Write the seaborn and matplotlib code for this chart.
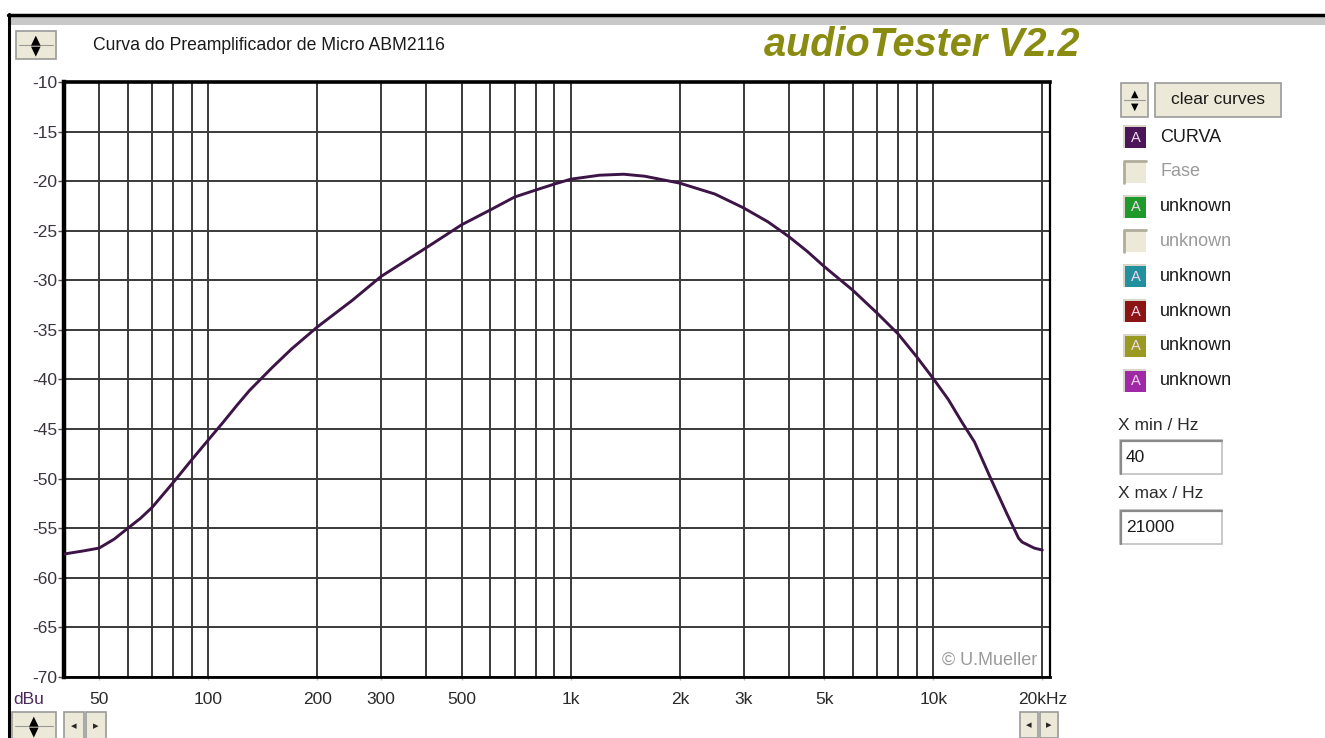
import matplotlib
matplotlib.use("Agg")
import matplotlib.pyplot as plt
import seaborn as sns
import pandas as pd
from matplotlib.patches import Rectangle
from matplotlib.lines import Line2D
from matplotlib.ticker import FixedLocator, NullFormatter

# ---------------- data ----------------
freq_hz = [40, 45, 50, 55, 60, 65, 70, 80, 90, 100, 110, 120, 130, 150, 170,
           200, 250, 300, 400, 500, 600, 700, 800, 900, 1000, 1200, 1400, 1600,
           2000, 2500, 3000, 3500, 4000, 4500, 5000, 6000, 7000, 8000, 9000,
           10000, 11000, 12000, 13000, 14500, 16000, 17200, 17600, 19000, 20000]
level_dbu = [-57.6, -57.3, -57.0, -56.1, -55.0, -54.0, -52.9, -50.4, -48.1,
             -46.1, -44.3, -42.6, -41.1, -38.8, -36.9, -34.7, -32.0, -29.6,
             -26.7, -24.4, -22.9, -21.6, -20.9, -20.3, -19.8, -19.4, -19.3,
             -19.5, -20.2, -21.3, -22.7, -24.1, -25.6, -27.1, -28.6, -31.0,
             -33.3, -35.4, -37.7, -39.9, -42.0, -44.3, -46.3, -50.2, -53.6,
             -56.0, -56.4, -57.0, -57.2]

x_major = [50, 100, 200, 300, 500, 1000, 2000, 3000, 5000, 10000, 20000]
x_major_labels = ["50", "100", "200", "300", "500", "1k", "2k", "3k", "5k", "10k", "20kHz"]
x_minor = [60, 70, 80, 90, 400, 600, 700, 800, 900, 4000, 6000, 7000, 8000, 9000]
y_ticks = [-10, -15, -20, -25, -30, -35, -40, -45, -50, -55, -60, -65, -70]
y_tick_labels = ["-10", "-15", "-20", "-25", "-30", "-35", "-40", "-45", "-50",
                 "-55", "-60", "-65", "-70"]
x_limits = (40, 21000)
y_limits = (-70, -10)

chart_title = "Curva do Preamplificador de Micro ABM2116"
brand = "audioTester V2.2"
legend_names = ["CURVA", "Fase", "unknown", "unknown", "unknown", "unknown", "unknown", "unknown"]
legend_colors = ["#4a1658", None, "#1f9a2a", None, "#23909e", "#8c1414", "#9a9a22", "#a02aa6"]

df = pd.DataFrame({"freq": freq_hz, "level": level_dbu})

# ---------------- figure ----------------
sns.set_style("white")
plt.rcParams["font.family"] = ["Liberation Sans", "DejaVu Sans"]

W, H = 1325, 738
fig = plt.figure(figsize=(W / 100, H / 100), dpi=100)
fig.patch.set_facecolor("white")

# background overlay in pixel coordinates for window decorations
bg = fig.add_axes([0, 0, 1, 1], zorder=0)
bg.set_xlim(0, W)
bg.set_ylim(H, 0)
bg.axis("off")

BTN = "#ece9d8"
EDGE = "#9a9a9a"

# window frame
bg.add_patch(Rectangle((9, 16), W, 9, facecolor="#c8c8c8", edgecolor="none"))
bg.add_line(Line2D([8, W], [14.5, 14.5], color="black", lw=2.5))
bg.add_line(Line2D([9, 9], [14, H], color="black", lw=2.2))


def button(x, y, w, h):
    bg.add_patch(Rectangle((x, y), w, h, facecolor=BTN, edgecolor=EDGE, lw=1.2))


def spinner(x, y, w, h, small=False):
    button(x, y, w, h)
    fs = 7 if small else 9
    bg.text(x + w / 2, y + h * 0.32, "\u25b2", ha="center", va="center", fontsize=fs,
            color="black", family="DejaVu Sans")
    bg.text(x + w / 2, y + h * 0.70, "\u25bc", ha="center", va="center", fontsize=fs,
            color="black", family="DejaVu Sans")
    bg.add_line(Line2D([x + 3, x + w - 3], [y + h / 2, y + h / 2], color=EDGE, lw=0.8))


# top-left spinner + title
spinner(16, 31, 40, 28)
bg.text(93, 45, chart_title, ha="left", va="center", fontsize=12.7, color="#1a1a1a")
bg.text(764, 45, brand, ha="left", va="center", fontsize=28.5, color="#8a8c12",
        fontweight="bold", fontstyle="italic")

# right panel
spinner(1121, 83, 27, 34, small=True)
button(1155, 83, 126, 34)
bg.text(1218, 100, "clear curves", ha="center", va="center", fontsize=12.5, color="#1a1a1a")

row0 = 137
for i, (name, col) in enumerate(zip(legend_names, legend_colors)):
    yc = row0 + i * 34.8
    if col is None:
        bg.add_patch(Rectangle((1124, yc - 11), 22, 22, facecolor=BTN, edgecolor="none"))
        bg.add_line(Line2D([1124, 1124, 1146], [yc + 11, yc - 11, yc - 11], color="#b0ad9c", lw=2))
        bg.text(1160, yc, name, ha="left", va="center", fontsize=13, color="#9a9a9a")
    else:
        bg.add_patch(Rectangle((1123, yc - 12), 23, 23, facecolor="#d8d6c8", edgecolor="none"))
        bg.add_patch(Rectangle((1125, yc - 10), 21, 21, facecolor=col, edgecolor="none"))
        bg.text(1135.5, yc + 0.5, "A", ha="center", va="center", fontsize=10.5, color="#f0d8f0")
        bg.text(1160, yc, name, ha="left", va="center", fontsize=13, color="#1a1a1a")

bg.text(1118, 425, "X min / Hz", ha="left", va="center", fontsize=12.5, color="#2a2a2a")
bg.add_patch(Rectangle((1120, 440), 102, 34, facecolor="white", edgecolor="#c0c0c0", lw=1.2))
bg.add_line(Line2D([1121, 1121, 1222], [474, 441, 441], color="#8a8a8a", lw=1.6))
bg.text(1126, 458, "40", ha="left", va="center", fontsize=12.5, color="#1a1a1a")
bg.text(1118, 494, "X max / Hz", ha="left", va="center", fontsize=12.5, color="#2a2a2a")
bg.add_patch(Rectangle((1120, 510), 102, 34, facecolor="white", edgecolor="#c0c0c0", lw=1.2))
bg.add_line(Line2D([1121, 1121, 1222], [544, 511, 511], color="#8a8a8a", lw=1.6))
bg.text(1126, 528, "21000", ha="left", va="center", fontsize=12.5, color="#1a1a1a")

# bottom buttons
spinner(12, 712, 44, 28)
button(64, 712, 20, 28)
button(86, 712, 20, 28)
bg.text(74, 726, "\u25c2", ha="center", va="center", fontsize=8, family="DejaVu Sans")
bg.text(96, 726, "\u25b8", ha="center", va="center", fontsize=8, family="DejaVu Sans")
button(1020, 712, 18, 26)
button(1040, 712, 18, 26)
bg.text(1029, 725, "\u25c2", ha="center", va="center", fontsize=8, family="DejaVu Sans")
bg.text(1049, 725, "\u25b8", ha="center", va="center", fontsize=8, family="DejaVu Sans")

bg.text(13, 700, "dBu", ha="left", va="center", fontsize=12.5, color="#4a2a5a")

# ---------------- main plot ----------------
L, R, T, B = 64, 1050, 82, 677
ax = fig.add_axes([L / W, 1 - B / H, (R - L) / W, (B - T) / H], zorder=2)
ax.set_facecolor("white")
ax.set_xscale("log")
ax.set_xlim(*x_limits)
ax.set_ylim(*y_limits)

ax.xaxis.set_major_locator(FixedLocator(x_major))
ax.xaxis.set_minor_locator(FixedLocator(x_minor))
ax.set_xticklabels(x_major_labels)
ax.xaxis.set_minor_formatter(NullFormatter())
ax.set_yticks(y_ticks)
ax.set_yticklabels(y_tick_labels)

ax.grid(True, which="both", axis="x", color="#3a3a3a", lw=1.4)
ax.grid(True, which="major", axis="y", color="#3a3a3a", lw=1.4)
ax.set_axisbelow(True)

sns.lineplot(data=df, x="freq", y="level", ax=ax, color="#3c1446", lw=2.1,
             estimator=None, sort=False, zorder=5)
ax.set_xlabel("")
ax.set_ylabel("")

ax.tick_params(axis="y", which="major", direction="out", length=4, width=1,
               color="#555555", labelsize=12.5, labelcolor="#3a3340", pad=1, left=True)
ax.tick_params(axis="x", which="major", direction="out", length=2, width=1,
               color="#bbbbbb", labelsize=12.5, labelcolor="#2a2a2a", pad=9, bottom=True)
ax.tick_params(axis="x", which="minor", length=0)

for side, lw in (("left", 3.2), ("top", 2.6), ("bottom", 2.0), ("right", 1.6)):
    ax.spines[side].set_visible(True)
    ax.spines[side].set_color("black")
    ax.spines[side].set_linewidth(lw)

ax.text(942, 660, "\u00a9 U.Mueller", transform=bg.transData, ha="left", va="center",
        fontsize=13, color="#9a9a9a", zorder=6)

fig.savefig("out.png", dpi=100, facecolor="white")
